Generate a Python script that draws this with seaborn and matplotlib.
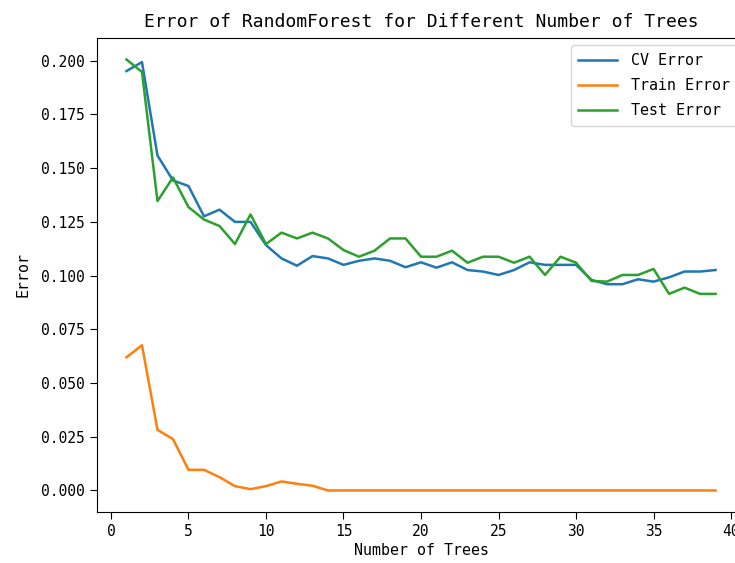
import pandas as pd
import seaborn as sns
import matplotlib.pyplot as plt

n_trees = list(range(1, 40))

cv_error = [0.1952, 0.1994, 0.1559, 0.1443, 0.1417, 0.1276, 0.1307, 0.1250, 0.1250, 0.1142,
            0.1080, 0.1046, 0.1091, 0.1080, 0.1050, 0.1069, 0.1080, 0.1069, 0.1039, 0.1062,
            0.1037, 0.1062, 0.1026, 0.1019, 0.1003, 0.1026, 0.1062, 0.1050, 0.1050, 0.1050,
            0.0980, 0.0960, 0.0960, 0.0983, 0.0972, 0.0992, 0.1019, 0.1019, 0.1026]

train_error = [0.0620, 0.0676, 0.0282, 0.0239, 0.0096, 0.0096, 0.0062, 0.0020, 0.0006, 0.0020,
               0.0042, 0.0031, 0.0022, 0.0, 0.0, 0.0, 0.0, 0.0, 0.0, 0.0,
               0.0, 0.0, 0.0, 0.0, 0.0, 0.0, 0.0, 0.0, 0.0, 0.0,
               0.0, 0.0, 0.0, 0.0, 0.0, 0.0, 0.0, 0.0, 0.0]

test_error = [0.2006, 0.1948, 0.1347, 0.1457, 0.1319, 0.1261, 0.1231, 0.1147, 0.1285, 0.1147,
              0.1200, 0.1173, 0.1200, 0.1173, 0.1119, 0.1088, 0.1116, 0.1173, 0.1173, 0.1088,
              0.1088, 0.1116, 0.1060, 0.1088, 0.1088, 0.1060, 0.1088, 0.1003, 0.1088, 0.1060,
              0.0975, 0.0972, 0.1003, 0.1003, 0.1031, 0.0915, 0.0944, 0.0915, 0.0915]

df = pd.DataFrame({'n': n_trees, 'cv': cv_error, 'train': train_error, 'test': test_error})

plt.rcParams['font.family'] = ['DejaVu Sans Mono']

fig = plt.figure(figsize=(7.35, 5.63), dpi=100)
ax = fig.add_axes([0.132, 0.0906, 0.8816, 0.842])

sns.lineplot(x='n', y='cv', data=df, ax=ax, color='#1f77b4', linewidth=1.8, label='CV Error')
sns.lineplot(x='n', y='train', data=df, ax=ax, color='#ff7f0e', linewidth=1.8, label='Train Error')
sns.lineplot(x='n', y='test', data=df, ax=ax, color='#2ca02c', linewidth=1.8, label='Test Error')

ax.set_xticks(range(0, 41, 5))
ax.set_yticks([0.0, 0.025, 0.05, 0.075, 0.1, 0.125, 0.15, 0.175, 0.2])
ax.set_yticklabels(['%.3f' % v for v in ax.get_yticks()])
ax.tick_params(labelsize=10.5, length=5)
ax.set_xlabel('Number of Trees', fontsize=10.8, labelpad=3)
ax.set_ylabel('Error', fontsize=10.8, labelpad=8)
ax.set_title('Error of RandomForest for Different Number of Trees', fontsize=13.0, pad=8)
ax.legend(loc='upper right', fontsize=10.8, labelspacing=0.68, handlelength=2.6,
          handletextpad=0.9, borderpad=0.5)

fig.savefig('out.png', dpi=100)
